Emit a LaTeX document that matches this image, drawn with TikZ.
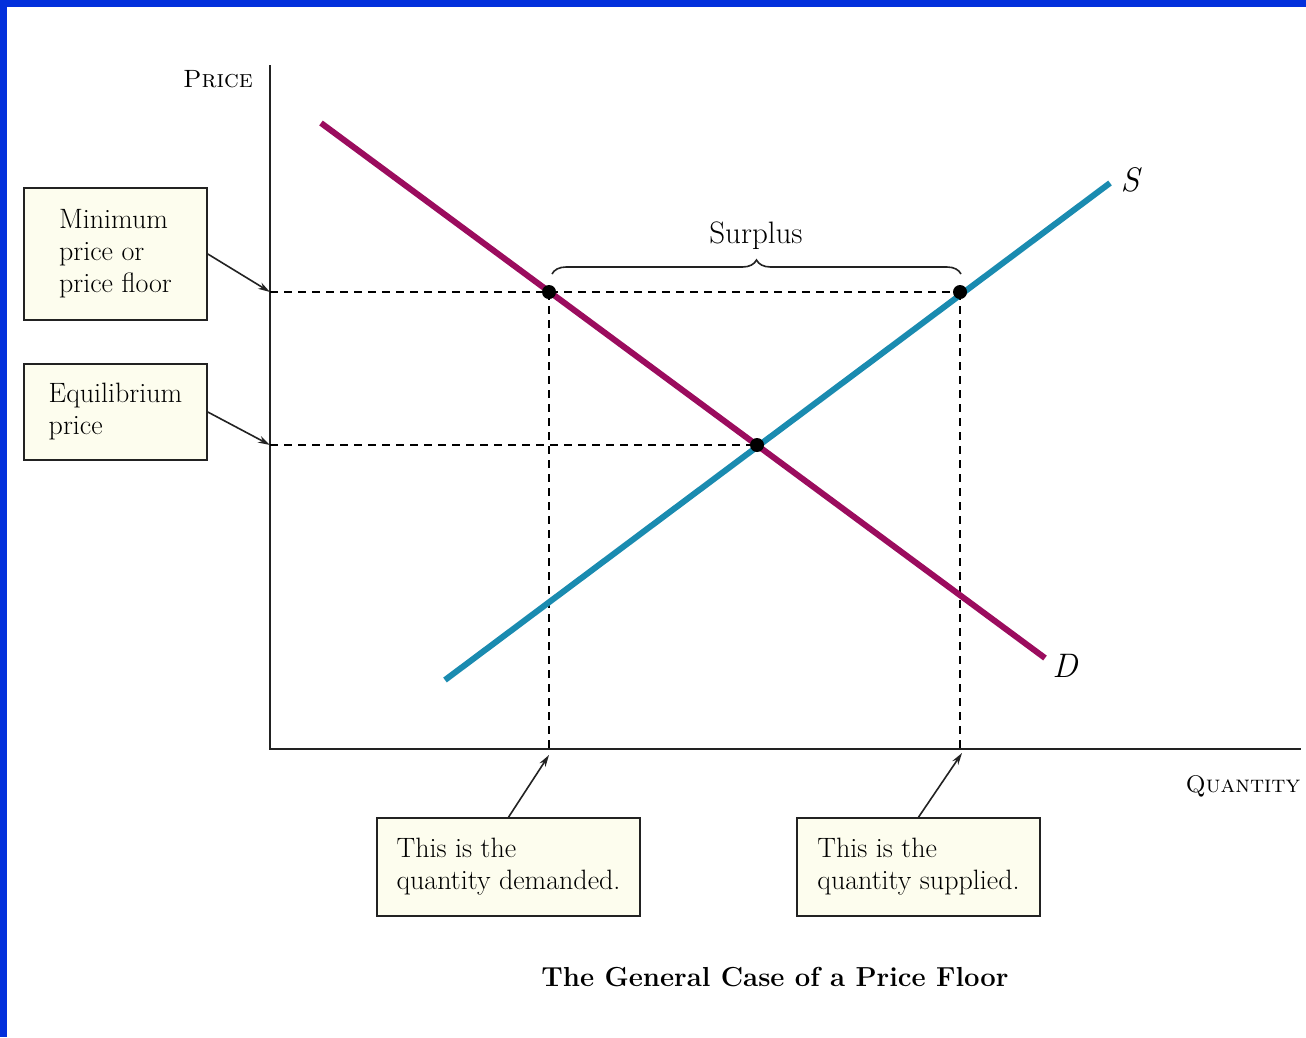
\documentclass[tikz,border=0pt]{standalone}
\usetikzlibrary{arrows.meta,decorations.pathreplacing}
\definecolor{demandc}{HTML}{9B0C5E}
\definecolor{supplyc}{HTML}{1A8BB0}
\definecolor{boxfill}{HTML}{FDFDEE}
\definecolor{framec}{HTML}{0330DC}
\definecolor{inkc}{HTML}{222222}
\begin{document}
\begin{tikzpicture}[x=1pt,y=-1pt,
  axisline/.style={draw=inkc,line width=1.8pt},
  curve/.style={line width=6pt},
  guide/.style={draw=black,line width=1.3pt,dash pattern=on 8pt off 6pt},
  dotmark/.style={circle,fill=black,inner sep=0pt,minimum size=14pt},
  ptr/.style={draw=inkc,line width=1.6pt,-{Stealth[length=12pt,width=7pt]}},
  infobox/.style={draw=inkc,line width=1.6pt,fill=boxfill,align=left,
    font=\fontsize{28}{32}\selectfont,inner sep=0pt},
  lbl/.style={inner sep=0pt,font=\fontsize{25}{30}\selectfont},
  curvelbl/.style={inner sep=0pt,font=\fontsize{34}{36}\selectfont\itshape},
]
\fill[white] (0,0) rectangle (1306,1037);
\fill[framec] (0,0) rectangle (1306,7);
\fill[framec] (0,0) rectangle (7,1037);
\useasboundingbox (0,0) rectangle (1306,1037);

% axes
\coordinate (ytop) at (270,65);
\coordinate (orig) at (270,749);
\coordinate (xend) at (1301,749);
\draw[axisline] (ytop) -- (orig) -- (xend);

% key points
\coordinate (pf0) at (270,292);
\coordinate (eq0) at (270,445);
\coordinate (A) at (549,292);
\coordinate (B) at (960,292);
\coordinate (E) at (757,445);
\coordinate (qa) at (549,749);
\coordinate (qb) at (960,749);
\coordinate (qatip) at (549,755);
\coordinate (qbtip) at (962,753);

% guides
\draw[guide] (pf0) -- (B);
\draw[guide] (eq0) -- (E);
\draw[guide] (A) -- (qa);
\draw[guide] (B) -- (qb);

% curves
\coordinate (d1) at (321,123);
\coordinate (d2) at (1045,658);
\coordinate (s1) at (445,680);
\coordinate (s2) at (1110,183);
\draw[curve,draw=demandc] (d1) -- (d2);
\draw[curve,draw=supplyc] (s1) -- (s2);

% dots
\node[dotmark] (dA) at (A) {};
\node[dotmark] (dB) at (B) {};
\node[dotmark] (dE) at (E) {};

% brace
\coordinate (br1) at (552,274);
\coordinate (br2) at (961,274);
\draw[inkc,line width=1.6pt,decorate,decoration={brace,amplitude=14pt}] (br1) -- (br2);

% labels
\node[lbl,anchor=base] (price) at (218,87) {\textsc{Price}};
\node[lbl,anchor=base,font=\fontsize{24}{30}\selectfont] (qty) at (1243,792) {\textsc{Quantity}};
\node[lbl,anchor=base,font=\fontsize{31}{34}\selectfont] (surplus) at (756,243) {Surplus};
\node[curvelbl] (slab) at (1130,180) {S};
\node[curvelbl] (dlab) at (1065,666) {D};
\node[lbl,anchor=base,font=\fontsize{27.5}{30}\selectfont\bfseries] (title) at (775,986) {The General Case of a Price Floor};

% boxes
\node[infobox,minimum width=183pt,minimum height=132pt] (minbox) at (115.5,254) {Minimum\\price or\\price floor};
\node[infobox,minimum width=183pt,minimum height=96pt] (eqbox) at (115.5,412) {Equilibrium\\price};
\node[infobox,minimum width=263pt,minimum height=98pt] (qdbox) at (508.5,867) {This is the\\quantity demanded.};
\node[infobox,minimum width=243pt,minimum height=98pt] (qsbox) at (918.5,867) {This is the\\quantity supplied.};

% pointers
\draw[ptr] (minbox.east) -- (pf0);
\draw[ptr] (eqbox.east) -- (eq0);
\draw[ptr] (qdbox.north) -- (qatip);
\draw[ptr] (qsbox.north) -- (qbtip);
\end{tikzpicture}
\end{document}
